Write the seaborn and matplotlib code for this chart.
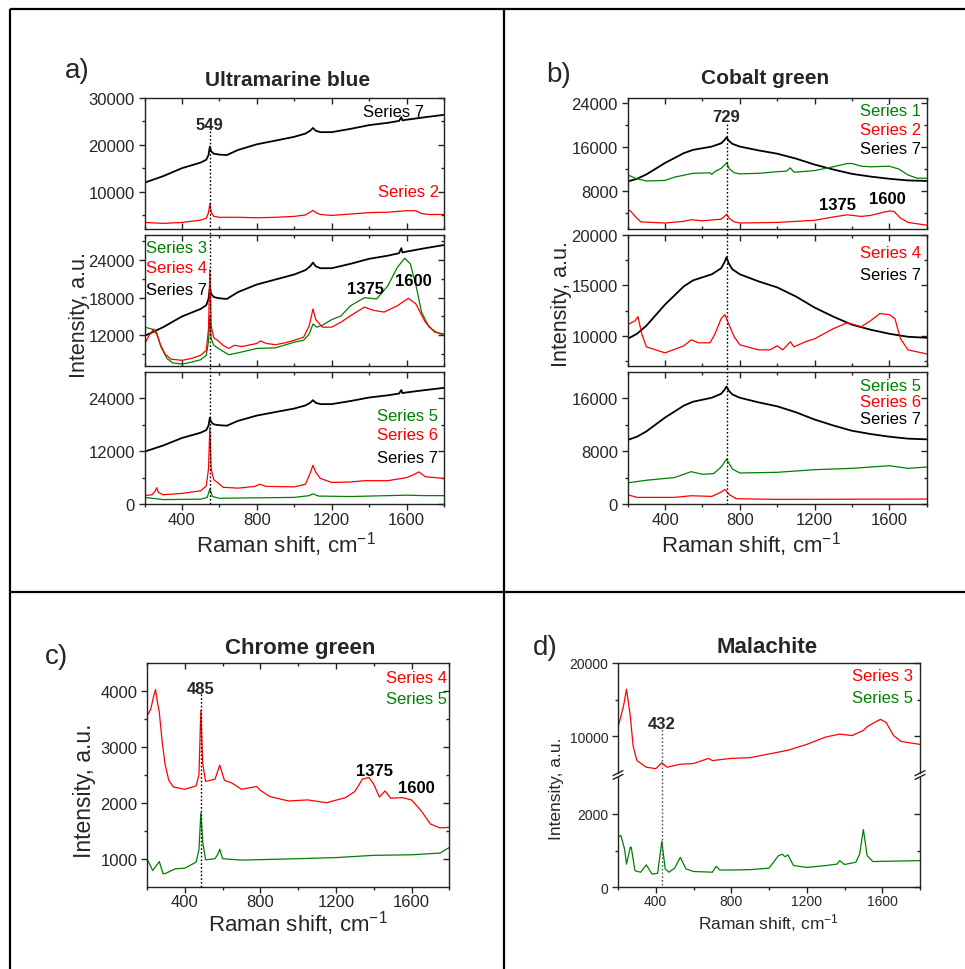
import numpy as np
import pandas as pd
import matplotlib
matplotlib.use("Agg")
import matplotlib.pyplot as plt
import matplotlib.transforms as mtrans
from matplotlib.lines import Line2D
from matplotlib.ticker import MultipleLocator, AutoMinorLocator, FixedLocator
import seaborn as sns

# ---------------- data ----------------
# Panel a) Ultramarine blue
a_s7_x = [200, 300, 400, 500, 530, 542, 549, 556, 570, 600, 640, 700, 800, 900, 1000, 1060, 1085, 1100, 1115, 1140, 1200, 1300, 1400, 1500, 1560, 1572, 1578, 1590, 1700, 1800]
a_s7_y = [11900, 13300, 15000, 16200, 16800, 17800, 19600, 18600, 18100, 17900, 17800, 18900, 20100, 20900, 21700, 22400, 23000, 23600, 23000, 22700, 22700, 23400, 24200, 24700, 25100, 25900, 25200, 25300, 25900, 26400]
a_s2_x = [200, 300, 400, 500, 530, 542, 549, 556, 570, 600, 700, 800, 900, 1000, 1060, 1085, 1100, 1115, 1140, 1200, 1300, 1400, 1500, 1600, 1650, 1680, 1720, 1800]
a_s2_y = [3400, 3200, 3400, 3900, 4300, 5500, 7400, 5600, 4700, 4500, 4500, 4400, 4500, 4700, 5000, 5600, 6000, 5500, 5100, 4900, 5200, 5500, 5600, 5900, 5900, 5300, 5100, 5100]
a_s4_x = [200, 225, 250, 265, 285, 310, 340, 400, 450, 500, 530, 542, 549, 556, 570, 590, 620, 650, 680, 720, 800, 820, 850, 900, 950, 1000, 1050, 1080, 1100, 1115, 1150, 1200, 1250, 1300, 1375, 1420, 1480, 1550, 1610, 1650, 1700, 1750, 1800]
a_s4_y = [10600, 12000, 13000, 12400, 10500, 9000, 8200, 8000, 8300, 8800, 9600, 13000, 22500, 13500, 11600, 11200, 10400, 9900, 10400, 10200, 10700, 11100, 10700, 10500, 10800, 11200, 11700, 13500, 16200, 14500, 13300, 13300, 14100, 15100, 16500, 16000, 15700, 16700, 17900, 17000, 14100, 12500, 12200]
a_s3_x = [200, 240, 265, 290, 320, 350, 400, 450, 500, 530, 542, 549, 556, 570, 600, 650, 700, 800, 900, 1000, 1050, 1080, 1100, 1120, 1150, 1200, 1250, 1300, 1375, 1440, 1500, 1550, 1590, 1620, 1650, 1680, 1720, 1760, 1800]
a_s3_y = [13300, 13000, 12200, 10000, 8300, 7600, 7400, 7700, 8100, 8800, 11000, 15100, 11500, 10400, 9800, 8900, 9200, 9900, 10000, 10900, 11200, 12200, 13800, 13300, 13600, 14500, 15100, 16700, 18000, 17800, 19900, 22800, 24300, 23400, 20000, 15700, 13300, 12500, 12000]
a_s6_x = [200, 240, 258, 265, 275, 300, 400, 500, 530, 542, 549, 556, 570, 590, 620, 700, 790, 815, 850, 1000, 1060, 1085, 1100, 1115, 1140, 1200, 1300, 1375, 1500, 1600, 1640, 1665, 1700, 1800]
a_s6_y = [1900, 2100, 3000, 3700, 2600, 2100, 2400, 3000, 4100, 8000, 17400, 8000, 5500, 4900, 3800, 3600, 4000, 4500, 4000, 3900, 4500, 7000, 8800, 7200, 5800, 4900, 5000, 5300, 5300, 6000, 6700, 7300, 6200, 5800]
a_s5_x = [200, 300, 500, 535, 549, 563, 600, 1000, 1080, 1100, 1130, 1300, 1600, 1700, 1800]
a_s5_y = [1500, 1000, 1100, 1500, 3400, 1700, 1300, 1500, 1900, 2300, 1800, 1700, 2000, 1900, 1900]

# Panel b) Cobalt green
b_s7_x = [200, 250, 300, 400, 500, 550, 600, 650, 700, 718, 729, 740, 760, 800, 900, 1000, 1100, 1200, 1300, 1400, 1500, 1600, 1700, 1800]
b_s7_y = [9700, 10200, 11000, 13100, 14900, 15500, 15800, 16100, 16700, 17300, 17800, 17200, 16600, 16100, 15400, 14800, 13900, 12800, 11900, 11100, 10600, 10200, 9900, 9800]
b_s1_x = [200, 250, 300, 400, 450, 550, 640, 650, 665, 700, 729, 745, 770, 800, 900, 1000, 1050, 1070, 1090, 1200, 1300, 1375, 1400, 1450, 1500, 1600, 1650, 1700, 1750, 1800]
b_s1_y = [10900, 10200, 9800, 9900, 10500, 11200, 11300, 11000, 11500, 12100, 13100, 12000, 11300, 11100, 11200, 11500, 11600, 12200, 11400, 11700, 12400, 13000, 13000, 12500, 12400, 12500, 12000, 10900, 10300, 10300]
b_s2_x = [200, 215, 240, 270, 400, 500, 540, 600, 700, 718, 729, 745, 770, 800, 1000, 1200, 1300, 1375, 1450, 1500, 1560, 1600, 1625, 1660, 1700, 1800]
b_s2_y = [4500, 4300, 3300, 2300, 2100, 2400, 2700, 2500, 2800, 3300, 3700, 2900, 2300, 2100, 2200, 2600, 3200, 3600, 3300, 3500, 4000, 4300, 4200, 3000, 2200, 1700]
b_s4_x = [200, 240, 255, 275, 300, 400, 500, 540, 580, 640, 665, 700, 720, 740, 770, 800, 900, 960, 1000, 1030, 1070, 1090, 1150, 1200, 1300, 1375, 1450, 1500, 1550, 1600, 1630, 1660, 1700, 1800]
b_s4_y = [11100, 11500, 11900, 10200, 8900, 8300, 9000, 9600, 9300, 9300, 10100, 11700, 12100, 11200, 9900, 9100, 8600, 8600, 9000, 8600, 9400, 8900, 9400, 9700, 10700, 11300, 10900, 11500, 12200, 12100, 11700, 9700, 8600, 8200]
b_s5_x = [200, 300, 450, 540, 600, 660, 700, 729, 760, 800, 1000, 1200, 1400, 1600, 1700, 1800]
b_s5_y = [3200, 3600, 4000, 4900, 4500, 4600, 5600, 6800, 5300, 4700, 4800, 5200, 5400, 5800, 5400, 5600]
b_s6_x = [200, 250, 450, 540, 650, 700, 720, 745, 780, 1000, 1800]
b_s6_y = [1400, 1000, 1000, 1250, 1150, 1800, 2200, 1400, 800, 700, 750]

# Panel c) Chrome green
c_s4_x = [200, 220, 235, 245, 255, 265, 280, 295, 315, 340, 400, 460, 475, 485, 495, 510, 560, 585, 610, 650, 700, 780, 800, 850, 950, 1050, 1150, 1250, 1300, 1340, 1375, 1400, 1430, 1460, 1490, 1550, 1600, 1650, 1700, 1750, 1800]
c_s4_y = [3550, 3670, 3900, 4020, 3800, 3620, 3100, 2700, 2400, 2280, 2240, 2300, 2500, 3650, 2700, 2380, 2420, 2670, 2400, 2350, 2240, 2290, 2220, 2110, 2030, 2050, 2000, 2090, 2200, 2420, 2450, 2330, 2100, 2210, 2080, 2090, 2050, 1860, 1620, 1550, 1560]
c_s5_x = [200, 230, 255, 265, 285, 300, 350, 400, 460, 475, 485, 495, 510, 560, 575, 585, 600, 700, 1000, 1200, 1400, 1600, 1750, 1800]
c_s5_y = [1000, 790, 900, 950, 730, 740, 820, 830, 940, 1160, 1820, 1300, 980, 1000, 1080, 1170, 1000, 975, 1000, 1020, 1060, 1070, 1100, 1200]

# Panel d) Malachite
d_s3_x = [200, 230, 245, 265, 280, 300, 350, 400, 432, 460, 530, 600, 680, 700, 800, 900, 1000, 1100, 1200, 1300, 1375, 1440, 1500, 1520, 1560, 1590, 1620, 1660, 1700, 1800]
d_s3_y = [11200, 14200, 16400, 12800, 8700, 6700, 5800, 5600, 6400, 5800, 6200, 6300, 7000, 6700, 7000, 7100, 7600, 8100, 8900, 9900, 10300, 10100, 10800, 11300, 11900, 12300, 11900, 10100, 9300, 8900]
d_s5_x = [200, 215, 235, 245, 265, 270, 290, 320, 350, 380, 410, 432, 450, 470, 500, 530, 560, 600, 700, 720, 740, 800, 900, 1000, 1050, 1070, 1085, 1100, 1130, 1200, 1300, 1360, 1375, 1400, 1460, 1480, 1500, 1520, 1550, 1800]
d_s5_y = [1360, 1410, 1040, 630, 1090, 1090, 450, 410, 610, 360, 380, 1250, 500, 410, 520, 815, 500, 430, 410, 570, 470, 470, 480, 520, 860, 900, 830, 880, 590, 540, 590, 630, 725, 620, 680, 900, 1570, 860, 700, 725]

# ---------------- styling ----------------
sns.set_style("ticks")
plt.rcParams['font.family'] = ['Liberation Sans', 'DejaVu Sans']
plt.rcParams['mathtext.fontset'] = 'custom'
plt.rcParams['mathtext.rm'] = 'Liberation Sans'
plt.rcParams['mathtext.it'] = 'Liberation Sans'

W, H = 965, 970
RED = '#FF0000'
GREEN = '#008000'
BLACK = '#000000'

fig = plt.figure(figsize=(W / 100, H / 100), dpi=100)
fig.patch.set_facecolor('white')


def rect(l, t, r, b):
    return [l / W, 1 - b / H, (r - l) / W, (b - t) / H]


def draw(ax, x, y, color, lw=0.9):
    df = pd.DataFrame({'x': x, 'y': y})
    sns.lineplot(data=df, x='x', y='y', ax=ax, color=color, linewidth=lw,
                 sort=False, estimator=None, legend=False)
    ax.set_xlabel('')
    ax.set_ylabel('')


def style(ax, fs, bottom_labels, ylim=None, yticks=None, yminor=None, xpad=2.0):
    ax.set_xlim(200, 1800)
    if ylim:
        ax.set_ylim(*ylim)
    ax.xaxis.set_major_locator(MultipleLocator(400))
    ax.xaxis.set_minor_locator(MultipleLocator(200))
    ax.yaxis.set_major_locator(FixedLocator(yticks))
    ax.yaxis.set_minor_locator(FixedLocator(yminor))
    for s in ax.spines.values():
        s.set_visible(True)
        s.set_linewidth(1.0)
        s.set_color('#222222')
    ax.tick_params(axis='y', which='major', direction='out', length=4, width=1, labelsize=fs, pad=3,
                   left=True, right=True, labelright=False)
    ax.tick_params(axis='y', which='minor', direction='out', length=2.5, width=1, left=True, right=True)
    if bottom_labels:
        ax.tick_params(axis='x', which='major', direction='out', length=4, width=1, labelsize=fs, pad=xpad,
                       bottom=True, top=True)
        ax.tick_params(axis='x', which='minor', direction='out', length=2.5, width=1, bottom=True, top=True)
    else:
        ax.tick_params(axis='x', which='major', direction='in', length=4, width=1, labelbottom=False,
                       bottom=True, top=True)
        ax.tick_params(axis='x', which='minor', direction='in', length=2.5, width=1, bottom=True, top=True)
    ax.set_xlabel('')
    ax.set_ylabel('')
    ax.grid(False)
    ax.set_facecolor('none')


def fix_opposite_ticks(ax):
    # opposite (top/right) ticks point inward like Origin
    for t in ax.yaxis.get_major_ticks() + ax.yaxis.get_minor_ticks():
        t.tick2line.set_marker(0)
    for t in ax.xaxis.get_major_ticks() + ax.xaxis.get_minor_ticks():
        t.tick2line.set_marker(3)


def atext(ax, x, y, s, color='black', ha='right', fs=12, weight='normal'):
    ax.text(x, y, s, transform=ax.transAxes, ha=ha, va='center', color=color,
            fontsize=fs, fontweight=weight)


def dtext(ax, x, y, s, fs=12):
    tr = mtrans.blended_transform_factory(ax.transData, ax.transAxes)
    ax.text(x, y, s, transform=tr, ha='center', va='center', fontsize=fs, fontweight='bold')


def vline(ax, xval, top_px, bot_px, color='black'):
    tr = mtrans.blended_transform_factory(ax.transData, fig.transFigure)
    fig.add_artist(Line2D([xval, xval], [1 - top_px / H, 1 - bot_px / H], transform=tr,
                          ls=(0, (1.2, 1.5)), color=color, lw=1.0, zorder=5))


def fline(x0, y0, x1, y1, lw=1.6):
    fig.add_artist(Line2D([x0 / W, x1 / W], [1 - y0 / H, 1 - y1 / H], transform=fig.transFigure,
                          color='black', lw=lw, solid_capstyle='butt'))


# ---------------- panel a ----------------
aT = fig.add_axes(rect(144.5, 99, 444, 230))
aM = fig.add_axes(rect(144.5, 236, 444, 367))
aB = fig.add_axes(rect(144.5, 373, 444, 505))
draw(aT, a_s2_x, a_s2_y, RED)
draw(aT, a_s7_x, a_s7_y, BLACK, 1.3)
draw(aM, a_s7_x, a_s7_y, BLACK, 1.3)
draw(aM, a_s3_x, a_s3_y, GREEN)
draw(aM, a_s4_x, a_s4_y, RED)
draw(aB, a_s7_x, a_s7_y, BLACK, 1.3)
draw(aB, a_s6_x, a_s6_y, RED)
draw(aB, a_s5_x, a_s5_y, GREEN)
style(aT, 12, False, ylim=(2000, 30000), yticks=[10000, 20000, 30000], yminor=[5000, 15000, 25000])
style(aM, 12, False, ylim=(7100, 28000), yticks=[12000, 18000, 24000], yminor=[9000, 15000, 21000, 27000])
style(aB, 12, True, ylim=(0, 30000), yticks=[0, 12000, 24000], yminor=[6000, 18000])
for ax in (aT, aM, aB):
    fix_opposite_ticks(ax)
atext(aT, 0.933, 0.898, 'Series 7', BLACK)
atext(aT, 0.984, 0.288, 'Series 2', RED)
atext(aM, 0.004, 0.906, 'Series 3', GREEN, ha='left')
atext(aM, 0.004, 0.753, 'Series 4', RED, ha='left')
atext(aM, 0.004, 0.582, 'Series 7', BLACK, ha='left')
atext(aM, 0.739, 0.593, '1375', weight='bold', ha='center')
atext(aM, 0.899, 0.651, '1600', weight='bold', ha='center')
atext(aB, 0.981, 0.669, 'Series 5', GREEN)
atext(aB, 0.981, 0.525, 'Series 6', RED)
atext(aB, 0.981, 0.354, 'Series 7', BLACK)
dtext(aT, 549, 0.796, '549')
vline(aB, 549, 131.7, 505)

# ---------------- panel b ----------------
bT = fig.add_axes(rect(627.7, 99, 926.7, 230))
bM = fig.add_axes(rect(627.7, 236, 926.7, 367))
bB = fig.add_axes(rect(627.7, 373, 926.7, 505))
draw(bT, b_s7_x, b_s7_y, BLACK, 1.3)
draw(bT, b_s1_x, b_s1_y, GREEN)
draw(bT, b_s2_x, b_s2_y, RED)
draw(bM, b_s7_x, b_s7_y, BLACK, 1.3)
draw(bM, b_s4_x, b_s4_y, RED)
draw(bB, b_s7_x, b_s7_y, BLACK, 1.3)
draw(bB, b_s5_x, b_s5_y, GREEN)
draw(bB, b_s6_x, b_s6_y, RED)
style(bT, 12, False, ylim=(1000, 25000), yticks=[8000, 16000, 24000], yminor=[4000, 12000, 20000])
style(bM, 12, False, ylim=(7000, 20000), yticks=[10000, 15000, 20000], yminor=[7500, 12500, 17500])
style(bB, 12, True, ylim=(0, 20000), yticks=[0, 8000, 16000], yminor=[4000, 12000])
for ax in (bT, bM, bB):
    fix_opposite_ticks(ax)
atext(bT, 0.981, 0.903, 'Series 1', GREEN)
atext(bT, 0.981, 0.763, 'Series 2', RED)
atext(bT, 0.981, 0.611, 'Series 7', BLACK)
atext(bT, 0.702, 0.186, '1375', weight='bold', ha='center')
atext(bT, 0.868, 0.234, '1600', weight='bold', ha='center')
atext(bM, 0.98, 0.863, 'Series 4', RED)
atext(bM, 0.98, 0.70, 'Series 7', BLACK)
atext(bB, 0.981, 0.896, 'Series 5', GREEN)
atext(bB, 0.981, 0.778, 'Series 6', RED)
atext(bB, 0.981, 0.644, 'Series 7', BLACK)
dtext(bT, 729, 0.855, '729')
vline(bB, 729, 125, 505)

# ---------------- panel c ----------------
cA = fig.add_axes(rect(147, 663.7, 449.3, 887.7))
draw(cA, c_s4_x, c_s4_y, RED)
draw(cA, c_s5_x, c_s5_y, GREEN)
style(cA, 12, True, ylim=(500, 4500), yticks=[1000, 2000, 3000, 4000], yminor=[1500, 2500, 3500], xpad=1.0)
fix_opposite_ticks(cA)
atext(cA, 0.991, 0.932, 'Series 4', RED)
atext(cA, 0.991, 0.838, 'Series 5', GREEN)
atext(cA, 0.752, 0.518, '1375', weight='bold', ha='center')
atext(cA, 0.892, 0.441, '1600', weight='bold', ha='center')
dtext(cA, 485, 0.887, '485')
vline(cA, 485, 695, 887.7)

# ---------------- panel d (broken axis) ----------------
dU = fig.add_axes(rect(618, 663.7, 920, 774.1))
dL = fig.add_axes(rect(618, 777.9, 920, 888.3))
draw(dU, d_s3_x, d_s3_y, RED)
draw(dL, d_s5_x, d_s5_y, GREEN)
style(dU, 10, False, ylim=(5000, 20000), yticks=[10000, 20000], yminor=[15000])
style(dL, 10, True, ylim=(0, 3000), yticks=[0, 2000], yminor=[1000], xpad=1.0)
for ax in (dU, dL):
    fix_opposite_ticks(ax)
dU.spines['bottom'].set_visible(False)
dU.tick_params(axis='x', which='both', bottom=False, top=False)
dL.spines['top'].set_visible(False)
dL.tick_params(axis='x', which='both', top=False)
atext(dU, 0.976, 0.88, 'Series 3', RED)
atext(dU, 0.976, 0.685, 'Series 5', GREEN)
dtext(dU, 432, 0.45, '432')
vline(dL, 432, 723.3, 888.3, color='#555555')
for xp in (618, 920):
    for yp in (774.1, 777.9):
        fig.add_artist(Line2D([(xp - 5) / W, (xp + 5) / W], [1 - (yp + 2.5) / H, 1 - (yp - 2.5) / H],
                              transform=fig.transFigure, color='#222222', lw=1.0))

# ---------------- titles, labels ----------------
fig.text(65 / W, 1 - 71 / H, 'a)', fontsize=20, ha='left', va='center')
fig.text(546.7 / W, 1 - 75 / H, 'b)', fontsize=20, ha='left', va='center')
fig.text(45 / W, 1 - 656.7 / H, 'c)', fontsize=20, ha='left', va='center')
fig.text(533.3 / W, 1 - 648.3 / H, 'd)', fontsize=20, ha='left', va='center')

fig.text(288 / W, 1 - 80 / H, 'Ultramarine blue', fontsize=15, fontweight='bold', ha='center', va='center')
fig.text(765.5 / W, 1 - 78.3 / H, 'Cobalt green', fontsize=15, fontweight='bold', ha='center', va='center')
fig.text(300.5 / W, 1 - 648.3 / H, 'Chrome green', fontsize=16, fontweight='bold', ha='center', va='center')
fig.text(767.2 / W, 1 - 647.3 / H, 'Malachite', fontsize=16, fontweight='bold', ha='center', va='center')

xlab = 'Raman shift, cm$^{-1}$'
fig.text(285.5 / W, 1 - 552.5 / H, xlab, fontsize=16, ha='center', va='baseline')
fig.text(750.8 / W, 1 - 552.5 / H, xlab, fontsize=16, ha='center', va='baseline')
fig.text(298.3 / W, 1 - 932 / H, xlab, fontsize=16, ha='center', va='baseline')
fig.text(768.7 / W, 1 - 929 / H, xlab, fontsize=12.5, ha='center', va='baseline')

ylab = 'Intensity, a.u.'
fig.text(80 / W, 1 - 315.5 / H, ylab, fontsize=15.5, rotation=90, ha='center', va='center')
fig.text(562 / W, 1 - 304 / H, ylab, fontsize=15.5, rotation=90, ha='center', va='center')
fig.text(85 / W, 1 - 791 / H, ylab, fontsize=16.5, rotation=90, ha='center', va='center')
fig.text(557 / W, 1 - 788.7 / H, ylab, fontsize=12.5, rotation=90, ha='center', va='center')

# ---------------- frame ----------------
fline(10, 10, 965, 10)
fline(10, 10, 10, 970)
fline(504, 10, 504, 970)
fline(10, 592.5, 965, 592.5)

fig.savefig('out.png', dpi=100)
